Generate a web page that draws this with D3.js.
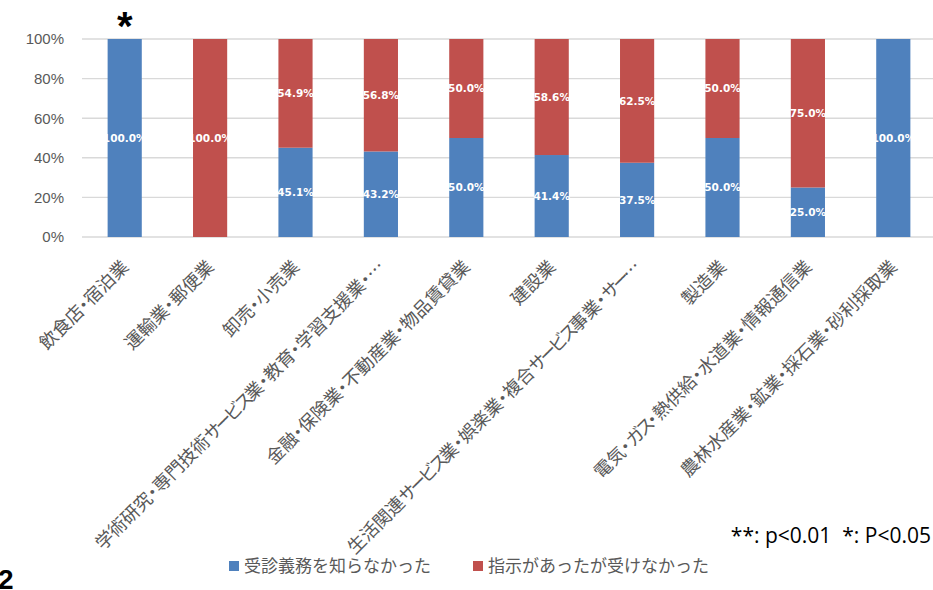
<!DOCTYPE html>
<html>
<head>
<meta charset="utf-8">
<script src="https://cdn.jsdelivr.net/npm/d3@7"></script>
<style>
  html, body { margin: 0; padding: 0; background: #fff; }
  svg { display: block; }
  .kana { letter-spacing: -3.5px; }
</style>
</head>
<body>
<svg id="chart" width="933" height="590"></svg>
<script>
// Industry categories (long names are shortened with an ellipsis, as in the chart)
const categories = [
  "飲食店・宿泊業",
  "運輸業・郵便業",
  "卸売・小売業",
  "学術研究・専門技術サービス業・教育・学習支援業・…",
  "金融・保険業・不動産業・物品賃貸業",
  "建設業",
  "生活関連サービス業・娯楽業・複合サービス事業・サー…",
  "製造業",
  "電気・ガス・熱供給・水道業・情報通信業",
  "農林水産業・鉱業・採石業・砂利採取業"
];
// Share (%) per category for each answer
const didNotKnow = [100.0, 0.0, 45.1, 43.2, 50.0, 41.4, 37.5, 50.0, 25.0, 100.0];
const toldButNot = [0.0, 100.0, 54.9, 56.8, 50.0, 58.6, 62.5, 50.0, 75.0, 0.0];
const seriesNames = ["受診義務を知らなかった", "指示があったが受けなかった"];
const seriesColors = ["#4f81bd", "#c0504d"];
const yTicks = [0, 20, 40, 60, 80, 100];
// Significance marks per category
const significance = ["*", "", "", "", "", "", "", "", "", ""];
const noteText = "**: p<0.01  *: P<0.05";

const svg = d3.select("#chart");
const plotLeft = 82, plotRight = 936, plotTop = 39, plotBottom = 237;

const x = d3.scaleBand().domain(categories).range([plotLeft, plotRight]).paddingInner(0.6).paddingOuter(0.3);
const y = d3.scaleLinear().domain([0, 100]).range([plotBottom, plotTop]);

// Gridlines
svg.append("g").selectAll("line").data(yTicks).join("line")
  .attr("x1", plotLeft).attr("x2", 933)
  .attr("y1", d => y(d)).attr("y2", d => y(d))
  .attr("stroke", "#d9d9d9").attr("stroke-width", 1.4);

// Y axis labels
const yAxis = d3.axisLeft(y).tickValues(yTicks).tickFormat(d => d + "%").tickSize(0).tickPadding(0);
const yg = svg.append("g").attr("transform", `translate(${plotLeft - 18},0)`).call(yAxis);
yg.select(".domain").remove();
yg.selectAll("text")
  .attr("fill", "#595959")
  .style("font-family", "'Liberation Sans', Arial, sans-serif")
  .style("font-size", "15px");

// Stacked series
const rows = categories.map((c, i) => ({ cat: c, s0: didNotKnow[i], s1: toldButNot[i] }));
const stack = d3.stack().keys(["s0", "s1"]);
const layers = stack(rows);

const barG = svg.append("g");
layers.forEach((layer, li) => {
  barG.append("g").selectAll("rect").data(layer).join("rect")
    .attr("x", d => x(d.data.cat))
    .attr("width", x.bandwidth())
    .attr("y", d => y(d[1]))
    .attr("height", d => y(d[0]) - y(d[1]))
    .attr("fill", seriesColors[li]);
});

// Value labels centred in each segment
layers.forEach((layer) => {
  svg.append("g").selectAll("text").data(layer.filter(d => d[1] - d[0] > 0)).join("text")
    .attr("x", d => x(d.data.cat) + x.bandwidth() / 2)
    .attr("y", d => y((d[0] + d[1]) / 2))
    .attr("dy", "0.36em")
    .attr("text-anchor", "middle")
    .attr("fill", "#fff")
    .style("font-family", "'DejaVu Sans', Verdana, sans-serif")
    .style("font-weight", "bold")
    .style("font-size", "10.5px")
    .text(d => (d[1] - d[0]).toFixed(1) + "%");
});

// Significance marks above bars
svg.append("g").selectAll("text").data(categories.filter((c, i) => significance[i]))
  .join("text")
  .attr("x", d => x(d) + x.bandwidth() / 2)
  .attr("y", 40)
  .attr("text-anchor", "middle")
  .attr("fill", "#000")
  .style("font-family", "'Liberation Sans', Arial, sans-serif")
  .style("font-weight", "bold")
  .style("font-size", "40px")
  .text(d => significance[categories.indexOf(d)]);

// Category labels, rotated; middle dots set half width, katakana slightly condensed
const labelSize = 18;
const catLabels = svg.append("g").selectAll("text").data(categories).join("text")
  .attr("transform", d => `translate(${x(d) + x.bandwidth() / 2 + 5},${268}) rotate(-45)`)
  .attr("text-anchor", "end")
  .attr("fill", "#595959")
  .style("font-family", "'Noto Sans CJK JP', sans-serif")
  .style("font-size", labelSize + "px");
catLabels.each(function(d) {
  const t = d3.select(this);
  let shift = 0;
  d.split(/([ァ-ヶー]+|・)/).filter(s => s.length).forEach(seg => {
    const span = t.append("tspan").text(seg);
    if (seg === "・") {
      span.attr("dx", shift - labelSize / 4);
      shift = -labelSize / 4;
      return;
    }
    if (shift) span.attr("dx", shift);
    shift = 0;
    if (/^[ァ-ヶー]+$/.test(seg)) span.attr("class", "kana");
  });
});

// Significance note
svg.append("text")
  .attr("x", 931).attr("y", 543)
  .attr("text-anchor", "end")
  .attr("fill", "#000")
  .attr("xml:space", "preserve")
  .style("white-space", "pre")
  .style("font-family", "'Open Sans', sans-serif")
  .style("font-size", "21px")
  .text(noteText);

// Legend
const legendX = [229, 473];
const legend = svg.append("g");
seriesNames.forEach((name, i) => {
  legend.append("rect").attr("x", legendX[i]).attr("y", 561).attr("width", 10).attr("height", 10)
    .attr("fill", seriesColors[i]);
  legend.append("text").attr("x", legendX[i] + 15).attr("y", 572)
    .attr("fill", "#595959")
    .style("font-family", "'Noto Sans CJK JP', sans-serif")
    .style("font-size", "17px")
    .text(name);
});

// Page number at the lower-left corner
svg.append("text").attr("x", -2).attr("y", 589)
  .attr("fill", "#000")
  .style("font-family", "'Liberation Sans', Arial, sans-serif")
  .style("font-weight", "bold")
  .style("font-size", "28px")
  .text("2");
</script>
</body>
</html>
